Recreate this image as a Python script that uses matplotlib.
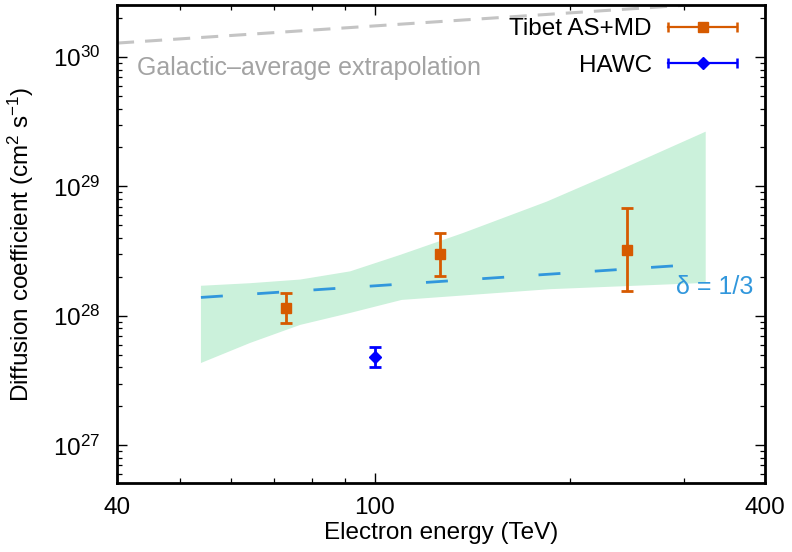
import numpy as np
import matplotlib
matplotlib.use('Agg')
import matplotlib.pyplot as plt
from matplotlib.lines import Line2D
from matplotlib.legend_handler import HandlerBase
from matplotlib.ticker import FixedLocator, FixedFormatter, LogLocator, NullFormatter

plt.rcParams['font.family'] = ['Liberation Sans', 'DejaVu Sans']
plt.rcParams['mathtext.fontset'] = 'custom'
plt.rcParams['mathtext.rm'] = 'Liberation Sans'
plt.rcParams['mathtext.it'] = 'Liberation Sans:italic'
plt.rcParams['mathtext.bf'] = 'Liberation Sans:bold'

# ---------------- data ----------------
tibet_E = [72.8, 126.0, 244.7]
tibet_D = [1.15e28, 2.99e28, 3.25e28]
tibet_lo = [8.8e27, 2.05e28, 1.56e28]
tibet_hi = [1.50e28, 4.36e28, 6.79e28]

hawc_E = [100.0]
hawc_D = [4.85e27]
hawc_lo = [4.02e27]
hawc_hi = [5.80e27]

band_up_E = [53.9, 64.2, 76.7, 91.6, 109.4, 136.8, 184.2, 233.0, 324.0]
band_up_D = [1.71e28, 1.79e28, 1.91e28, 2.21e28, 2.96e28, 4.37e28, 7.64e28, 1.27e29, 2.65e29]
band_lo_E = [53.9, 64.2, 76.7, 91.6, 110.0, 186.4, 324.0]
band_lo_D = [4.33e27, 6.19e27, 8.53e27, 1.055e28, 1.33e28, 1.61e28, 1.80e28]

delta_E = [53.9, 324.0]
delta_D = [1.39e28, 2.53e28]

gal_E = [40.0, 400.0]
gal_D = [1.28e30, 2.76e30]

xtick_vals = [40, 100, 400]
xtick_labels = ['40', '100', '400']
xminor_vals = [50, 60, 70, 80, 90, 200, 300]

# ---------------- styles ----------------
ORANGE = '#d65a00'
BLUE = '#0000ff'
SKY = '#3197dc'
GREEN = '#cbf1db'
GRAY_LINE = '#c4c4c4'
GRAY_TEXT = '#a3a3a3'
FS = 17.5

fig = plt.figure(figsize=(7.92, 5.52), dpi=100)
ax = fig.add_axes([117 / 792, 1 - 483.3 / 552, 648 / 792, 478.3 / 552])
ax.set_xscale('log')
ax.set_yscale('log')
ax.set_xlim(40, 400)
ax.set_ylim(5.1e26, 2.52e30)

poly_E = list(band_up_E) + list(band_lo_E[::-1])
poly_D = list(band_up_D) + list(band_lo_D[::-1])
ax.fill(poly_E, poly_D, color=GREEN, lw=0, zorder=1)

ax.plot(delta_E, delta_D, color=SKY, lw=2.0, dashes=(7.9, 12.4), zorder=2)
ax.plot(gal_E, gal_D, color=GRAY_LINE, lw=2.2, dashes=(5.6, 3.6), zorder=2)

t = np.array(tibet_D)
ax.errorbar(tibet_E, tibet_D,
            yerr=[t - np.array(tibet_lo), np.array(tibet_hi) - t],
            fmt='s', color=ORANGE, ms=7.5, capsize=4.2, elinewidth=2.0,
            capthick=2.0, zorder=4)
h = np.array(hawc_D)
ax.errorbar(hawc_E, hawc_D,
            yerr=[h - np.array(hawc_lo), np.array(hawc_hi) - h],
            fmt='D', color=BLUE, ms=6.0, capsize=4.2, elinewidth=2.0,
            capthick=2.0, zorder=4)


class HBar(HandlerBase):
    def create_artists(self, legend, orig_handle, xdescent, ydescent,
                       width, height, fontsize, trans):
        c = orig_handle.get_color()
        m = orig_handle.get_marker()
        ms = orig_handle.get_markersize()
        y = height / 2 - ydescent
        x0, x1 = -xdescent, width - xdescent
        line = Line2D([x0, x1], [y, y], color=c, lw=1.6)
        caps = Line2D([x0, x1], [y, y], ls='none', marker='|', ms=6.5,
                      mew=1.8, color=c)
        mk = Line2D([(x0 + x1) / 2], [y], ls='none', marker=m, ms=ms,
                    color=c)
        for a in (line, caps, mk):
            a.set_transform(trans)
        return [line, caps, mk]


h1 = Line2D([], [], color=ORANGE, marker='s', ms=7.5)
h2 = Line2D([], [], color=BLUE, marker='D', ms=6.0)
ax.legend([h1, h2], ['Tibet AS+MD', 'HAWC'], handler_map={Line2D: HBar()},
          loc='upper right', bbox_to_anchor=(0.9563, 0.972), frameon=False,
          markerfirst=False, handlelength=2.81, handletextpad=0.68,
          labelspacing=0.6, borderpad=0, borderaxespad=0, fontsize=FS)

ax.text(0.0309, 0.8537, 'Galactic\u2013average extrapolation',
        transform=ax.transAxes, color=GRAY_TEXT, fontsize=18,
        va='baseline', ha='left')
ax.text(0.8627, 0.3958, '\u03b4 = 1/3', transform=ax.transAxes, color=SKY,
        fontsize=18, va='baseline', ha='left')

ax.xaxis.set_major_locator(FixedLocator(xtick_vals))
ax.xaxis.set_major_formatter(FixedFormatter(xtick_labels))
ax.xaxis.set_minor_locator(FixedLocator(xminor_vals))
ax.xaxis.set_minor_formatter(NullFormatter())
ax.yaxis.set_major_locator(LogLocator(base=10, numticks=20))
ax.yaxis.set_minor_locator(LogLocator(base=10, subs=range(2, 10), numticks=50))
ax.yaxis.set_minor_formatter(NullFormatter())

ax.tick_params(which='both', direction='in', top=True, right=True,
               labelsize=FS)
ax.tick_params(which='major', length=7, width=1.0)
ax.tick_params(which='minor', length=3.5, width=0.9)
ax.tick_params(axis='x', which='major', pad=10)
ax.tick_params(axis='y', which='major', pad=12)
for s in ax.spines.values():
    s.set_linewidth(2.0)

ax.set_xlabel('Electron energy (TeV)', fontsize=FS, labelpad=2)
ax.set_ylabel('Diffusion coefficient (cm$^2$ s$^{-1}$)', fontsize=FS,
              labelpad=12)

fig.savefig('out.png', dpi=100)
